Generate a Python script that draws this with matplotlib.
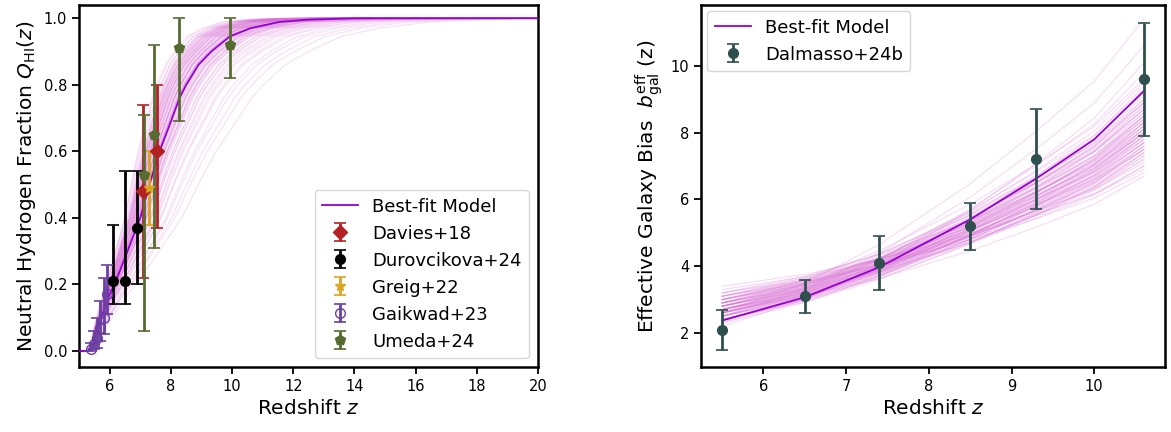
import matplotlib
matplotlib.use("Agg")
import matplotlib.pyplot as plt
import numpy as np

plt.rcParams["font.family"] = "DejaVu Sans"
plt.rcParams["axes.linewidth"] = 1.8
plt.rcParams["xtick.major.width"] = 1.3
plt.rcParams["ytick.major.width"] = 1.3
plt.rcParams["xtick.major.size"] = 5
plt.rcParams["ytick.major.size"] = 5

# --- neutral fraction: best-fit history ---
qhi_z = [5.0, 5.3, 5.45, 5.6, 5.8, 6.0, 6.16, 6.5, 7.0, 7.3, 7.63, 8.0, 8.28,
         8.5, 8.9, 9.32, 9.92, 10.6, 11.55, 12.5, 14.0, 20.0]
qhi_best = [0.0, 0.0, 0.02, 0.07, 0.12, 0.17, 0.20, 0.28, 0.40, 0.50, 0.60,
            0.69, 0.76, 0.80, 0.86, 0.90, 0.945, 0.97, 0.989, 0.996, 1.0, 1.0]

# posterior draws: stretch of each history about its onset
qhi_stretch = [0.70, 0.72, 0.74, 0.75, 0.76, 0.77, 0.78, 0.79, 0.80, 0.80,
               0.81, 0.82, 0.82, 0.83, 0.84, 0.84, 0.85, 0.86, 0.86, 0.87,
               0.88, 0.88, 0.89, 0.90, 0.90, 0.91, 0.92, 0.92, 0.93, 0.94,
               0.94, 0.95, 0.96, 0.96, 0.97, 0.98, 0.98, 0.99, 1.00, 1.00,
               1.01, 1.02, 1.03, 1.04, 1.05, 1.06, 1.07, 1.08, 1.09, 1.10,
               1.11, 1.12, 1.14, 1.15, 1.17, 1.19, 1.21, 1.23, 1.25, 1.28,
               1.31, 1.34, 1.38, 1.42, 1.47, 1.53, 1.60, 1.68, 1.78, 0.83,
               0.87, 0.91, 0.95, 0.99, 1.03, 1.13, 0.79, 0.85, 0.93, 1.06]
qhi_onset = [5.30, 5.28, 5.32, 5.26, 5.34, 5.29, 5.31, 5.27, 5.33, 5.30]

# observational constraints: z, Q, lower err, upper err
davies_z = [7.09, 7.54]
davies_q = [0.48, 0.60]
davies_lo = [0.26, 0.23]
davies_hi = [0.26, 0.20]

durov_z = [6.1, 6.5, 6.9]
durov_q = [0.21, 0.21, 0.37]
durov_lo = [0.07, 0.07, 0.17]
durov_hi = [0.17, 0.33, 0.17]

greig_z = [7.29]
greig_q = [0.49]
greig_lo = [0.11]
greig_hi = [0.11]

gaik_z = [5.4, 5.5, 5.6, 5.7, 5.8, 5.9]
gaik_q = [0.005, 0.02, 0.04, 0.07, 0.10, 0.17]
gaik_lo = [0.005, 0.015, 0.03, 0.04, 0.05, 0.06]
gaik_hi = [0.02, 0.04, 0.06, 0.08, 0.12, 0.09]

umeda_z = [7.12, 7.44, 8.28, 9.92]
umeda_q = [0.53, 0.65, 0.91, 0.92]
umeda_lo = [0.47, 0.34, 0.22, 0.10]
umeda_hi = [0.18, 0.27, 0.09, 0.08]

# --- effective galaxy bias ---
bias_z = [5.5, 6.5, 7.4, 8.5, 9.3, 10.6]
bias_val = [2.1, 3.1, 4.1, 5.2, 7.2, 9.6]
bias_lo = [0.6, 0.5, 0.8, 0.7, 1.5, 1.7]
bias_hi = [0.6, 0.5, 0.8, 0.7, 1.5, 1.7]

bfit_z = [5.5, 6.5, 7.4, 8.5, 9.3, 10.0, 10.6]
bfit_val = [2.37, 3.07, 3.97, 5.40, 6.63, 7.8, 9.25]

# posterior draws as (bias at z=5.5, bias at z=10.6)
bias_draws = [(2.6, 8.2), (2.8, 7.9), (2.5, 8.6), (2.9, 7.6), (2.7, 8.4), (3.0, 7.3),
              (2.4, 9.0), (2.6, 7.8), (2.8, 8.8), (3.1, 7.0), (2.5, 8.0), (2.7, 7.5),
              (2.9, 8.3), (2.3, 9.4), (3.2, 6.8), (2.6, 8.9), (2.8, 7.2), (2.4, 8.5),
              (3.0, 8.0), (2.7, 9.2), (3.3, 7.1), (2.5, 7.7), (2.9, 9.6), (2.2, 10.1),
              (3.4, 6.9), (2.6, 7.4), (2.8, 8.5), (2.4, 7.9), (3.1, 8.6), (2.7, 8.0),
              (2.5, 10.6), (3.0, 7.7), (2.3, 8.3), (2.9, 7.0), (2.6, 11.4), (2.8, 9.0),
              (3.2, 7.5), (2.5, 9.8), (2.7, 6.7), (3.0, 8.9), (2.6, 8.1), (2.8, 7.7),
              (2.7, 8.7), (2.9, 8.1), (2.5, 8.3), (2.6, 7.6), (3.0, 8.4), (2.8, 8.0),
              (2.7, 7.8), (2.4, 8.8), (3.1, 7.8), (2.6, 8.4), (2.9, 7.4), (2.5, 9.1),
              (2.7, 7.3), (2.8, 8.3), (3.0, 7.5), (2.6, 9.5), (2.9, 8.7), (2.4, 7.6),
              (2.7, 8.9), (3.2, 8.1), (2.5, 7.4), (2.8, 9.3), (2.6, 7.9), (3.1, 7.2),
              (2.7, 8.2), (2.9, 7.9), (2.5, 8.5), (2.8, 7.5), (3.0, 8.2), (2.6, 8.7),
              (2.4, 8.1), (2.7, 7.7), (2.9, 8.5), (3.1, 8.0)]

draw_color = "orchid"
best_color = "darkviolet"

fig = plt.figure(figsize=(11.71, 4.32), dpi=100)
ax1 = fig.add_axes([0.0675, 0.1505, 0.392, 0.838])
ax2 = fig.add_axes([0.5986, 0.1505, 0.3962, 0.838])

# left panel
zgrid = np.linspace(5.0, 20.0, 600)
for i, s in enumerate(qhi_stretch):
    z0 = qhi_onset[i % len(qhi_onset)]
    ax1.plot(zgrid, np.interp(5.3 + (zgrid - z0) / s, qhi_z, qhi_best),
             color=draw_color, alpha=0.22, lw=0.8, zorder=1)
ax1.plot(qhi_z, qhi_best, color=best_color, lw=1.3, zorder=3, label="Best-fit Model")

eb = dict(capsize=4, elinewidth=2, capthick=1.2, ms=7, zorder=4)
ax1.errorbar(davies_z, davies_q, yerr=[davies_lo, davies_hi], fmt="D",
             color="#b22222", label="Davies+18", **eb)
ax1.errorbar(durov_z, durov_q, yerr=[durov_lo, durov_hi], fmt="o",
             color="black", label="Durovcikova+24", **eb)
ax1.errorbar(greig_z, greig_q, yerr=[greig_lo, greig_hi], fmt="*",
             color="#daa520", label="Greig+22", **eb)
ax1.errorbar(gaik_z, gaik_q, yerr=[gaik_lo, gaik_hi], fmt="o", mfc="none",
             color="#6a3fa0", label="Gaikwad+23", **eb)
ax1.errorbar(umeda_z, umeda_q, yerr=[umeda_lo, umeda_hi], fmt="p",
             color="#556b2f", label="Umeda+24", **eb)

ax1.set_xlim(5, 20)
ax1.set_ylim(-0.048, 1.04)
ax1.set_xticks([6, 8, 10, 12, 14, 16, 18, 20])
ax1.set_yticks([0.0, 0.2, 0.4, 0.6, 0.8, 1.0])
ax1.tick_params(labelsize=10.5)
ax1.set_xlabel("Redshift $z$", fontsize=14.5)
ax1.set_ylabel(r"Neutral Hydrogen Fraction $Q_{\mathrm{HI}}(z)$", fontsize=14.5)
ax1.legend(loc="lower right", fontsize=13, handlelength=2.0, labelspacing=0.5)

# right panel
bfit = np.array(bfit_val)
shape = (bfit - bfit[0]) / (bfit[-1] - bfit[0])
for lo, hi in bias_draws:
    ax2.plot(bfit_z, lo + shape * (hi - lo), color=draw_color, alpha=0.25, lw=0.8, zorder=1)
ax2.plot(bfit_z, bfit_val, color=best_color, lw=1.3, zorder=3, label="Best-fit Model")
ax2.errorbar(bias_z, bias_val, yerr=[bias_lo, bias_hi], fmt="o",
             color="#2f4f4f", label="Dalmasso+24b", **eb)

ax2.set_xlim(5.245, 10.855)
ax2.set_ylim(0.98, 11.83)
ax2.set_xticks([6, 7, 8, 9, 10])
ax2.set_yticks([2, 4, 6, 8, 10])
ax2.tick_params(labelsize=10.5)
ax2.set_xlabel("Redshift $z$", fontsize=14.5)
ax2.set_ylabel(r"Effective Galaxy Bias  $b_{\mathrm{gal}}^{\mathrm{eff}}$ (z)", fontsize=14.5)
ax2.legend(loc="upper left", fontsize=13, handlelength=2.0, borderaxespad=0.35)

fig.savefig("out.png", dpi=100)
